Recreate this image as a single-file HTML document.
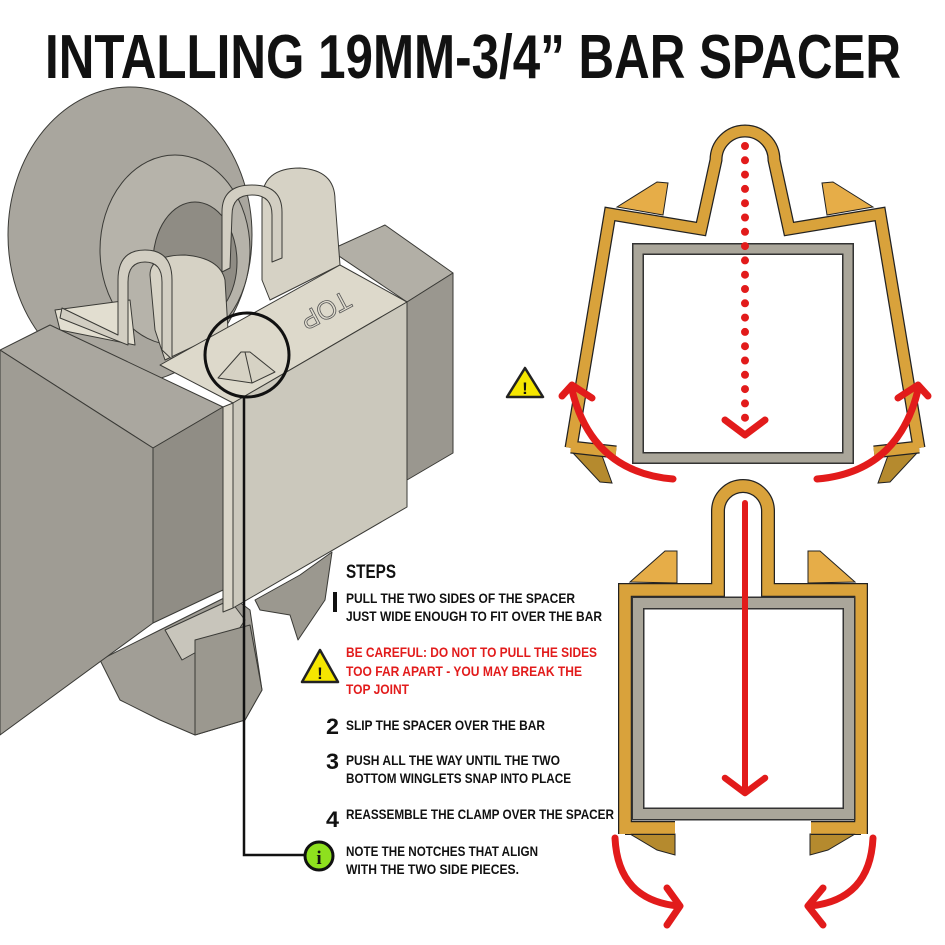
<!DOCTYPE html>
<html><head><meta charset="utf-8"><style>
html,body{margin:0;padding:0;background:#fff;width:945px;height:945px;overflow:hidden}
svg{display:block}
text{font-family:"Liberation Sans",sans-serif;font-weight:bold}
</style></head><body>
<svg width="945" height="945" viewBox="0 0 945 945" xmlns="http://www.w3.org/2000/svg">
<rect width="945" height="945" fill="#fff"/>
<!-- Title -->
<text x="45" y="78" font-size="62" textLength="856" lengthAdjust="spacingAndGlyphs" fill="#111">INTALLING 19MM-3/4” BAR SPACER</text>

<!-- ===== 3D model ===== -->
<g stroke="#3a3a36" stroke-width="1" stroke-linejoin="round">
  <!-- big disk -->
  <ellipse cx="130" cy="235" rx="122" ry="148" fill="#a9a69e"/>
  <ellipse cx="175" cy="250" rx="75" ry="95" fill="#b6b3aa"/>
  <ellipse cx="195" cy="262" rx="42" ry="60" fill="#8f8c84"/>
  <!-- lower disk parts -->
  <path d="M100,660 L160,630 L230,595 L250,610 L262,690 L245,720 L195,735 L160,720 L120,700 Z" fill="#a19e96"/>
  <path d="M165,630 L230,600 L245,620 L232,640 L200,650 L182,660 Z" fill="#c8c5bb"/>
  <path d="M195,640 L250,625 L262,690 L245,720 L195,735 Z" fill="#9b988f"/>
  <path d="M255,600 L300,575 L332,552 L325,600 L298,640 L290,615 L260,610 Z" fill="#9b988f"/>
  <!-- far bar top / end -->
  <path d="M330,250 L385,225 L453,273 L407,302 Z" fill="#b2afa6"/>
  <path d="M407,302 L453,273 L453,453 L407,480 Z" fill="#9a978f"/>
  <!-- back clip blocks -->
  <path d="M262,200 Q262,168 300,168 Q335,170 335,200 L340,265 L270,300 L262,280 Z" fill="#d6d2c5"/>
  <path d="M150,275 Q150,255 185,255 Q220,258 225,280 L228,330 L165,360 L155,330 Z" fill="#d6d2c5"/>
  <!-- clip inner floor -->
  <path d="M55,310 L130,300 L135,345 L60,330 Z" fill="#e2ded0"/>
  <!-- U clips (light strips) -->
  <path d="M60,318 L128,345 L128,282 Q128,262 145,262 Q162,262 162,282 L162,350 L178,365 L233,403 L242,396 L172,358 L172,280 Q172,250 145,250 Q118,250 118,280 L118,335 L62,308 Z" fill="#d2cec2"/>
  <path d="M230,268 L232,215 Q232,195 252,195 Q272,195 272,215 L272,262 L282,258 L282,212 Q282,185 252,185 Q222,185 222,212 L222,272 Z" fill="#d2cec2"/>
  <!-- sleeve top face -->
  <path d="M160,365 L340,265 L407,302 L233,403 Z" fill="#ddd9cb"/>
  <!-- sleeve front face -->
  <path d="M233,403 L407,302 L407,507 L233,608 Z" fill="#cbc8bc"/>
  <!-- spacer strip -->
  <path d="M223,407 L233,403 L233,608 L223,612 Z" fill="#d9d5c8"/>
  <!-- bar -->
  <path d="M0,350 L50,325 L223,407 L153,448 Z" fill="#aaa79f"/>
  <path d="M0,350 L153,448 L153,623 L0,735 Z" fill="#9f9c94"/>
  <path d="M153,448 L223,407 L223,590 L153,623 Z" fill="#908d85"/>
  <!-- pyramid -->
  <path d="M218,378 L241,352 L250,352 L275,372 L252,383 Z" fill="#d6d2c4"/>
  <line x1="245" y1="352" x2="252" y2="383"/>
</g>
<text x="0" y="0" font-size="26" font-weight="normal" fill="#e0dccf" stroke="#555" stroke-width="0.8" transform="translate(345,290) rotate(152)" style="font-weight:normal">TOP</text>
<!-- callout -->
<circle cx="247" cy="355" r="42" fill="none" stroke="#111" stroke-width="3"/>
<polyline points="244,396 244,855 305,855" fill="none" stroke="#111" stroke-width="2.5"/>

<!-- ===== Top-right diagram ===== -->
<g stroke="#222" stroke-width="1">
  <polygon points="617,207 657,182 668,183 663,215" fill="#e6ad48"/>
  <polygon points="873,207 833,182 822,183 827,215" fill="#e6ad48"/>
  <polygon points="573,453 600,450 612,483 600,482" fill="#b58a2e"/>
  <polygon points="917,453 890,450 878,483 890,482" fill="#b58a2e"/>
</g>
<path d="M571,448 L610,214 L701,229 L716,160 A29 29 0 0 1 774,160 L789,229 L880,214 L919,448 M571,447 L616,452 M919,447 L874,452" fill="none" stroke="#222" stroke-width="13" stroke-linejoin="miter"/>
<path d="M571,448 L610,214 L701,229 L716,160 A29 29 0 0 1 774,160 L789,229 L880,214 L919,448 M571,447 L616,452 M919,447 L874,452" fill="none" stroke="#d9a23b" stroke-width="10.5" stroke-linejoin="miter"/>
<rect x="638" y="249" width="210" height="209" fill="none" stroke="#333" stroke-width="12"/>
<rect x="638" y="249" width="210" height="209" fill="none" stroke="#aaa69a" stroke-width="9"/>
<line x1="745" y1="146" x2="745" y2="428" stroke="#e21b1b" stroke-width="8" stroke-linecap="round" stroke-dasharray="0 14.3"/>
<polyline points="725,420 745,435 765,420" fill="none" stroke="#e21b1b" stroke-width="7" stroke-linecap="round" stroke-linejoin="round"/>
<path d="M673,479 Q592,472 572,390" fill="none" stroke="#e21b1b" stroke-width="7" stroke-linecap="round"/>
<polyline points="562,396 572,385 592,398" fill="none" stroke="#e21b1b" stroke-width="7" stroke-linecap="round" stroke-linejoin="round"/>
<path d="M817,479 Q898,472 918,390" fill="none" stroke="#e21b1b" stroke-width="7" stroke-linecap="round"/>
<polyline points="898,398 918,385 928,396" fill="none" stroke="#e21b1b" stroke-width="7" stroke-linecap="round" stroke-linejoin="round"/>
<!-- warning icon top -->
<path d="M525,368 L543,397 L507,397 Z" fill="#f5e600" stroke="#222" stroke-width="2.5" stroke-linejoin="round"/>
<text x="525" y="394" font-size="17" text-anchor="middle" fill="#111">!</text>

<!-- ===== Bottom-right diagram ===== -->
<g stroke="#222" stroke-width="1">
  <polygon points="630,582 665,551 677,551 677,583" fill="#e6ad48"/>
  <polygon points="855,582 820,551 808,551 808,583" fill="#e6ad48"/>
  <polygon points="630,834 675,834 675,855 657,850" fill="#b58a2e"/>
  <polygon points="855,834 810,834 810,855 828,850" fill="#b58a2e"/>
</g>
<path d="M625,834 L625,590 L718,590 L718,511 A25 25 0 0 1 768,511 L768,590 L861,590 L861,834 M625,828 L675,828 M861,828 L811,828" fill="none" stroke="#222" stroke-width="14"/>
<path d="M625,834 L625,590 L718,590 L718,511 A25 25 0 0 1 768,511 L768,590 L861,590 L861,834 M625,828 L675,828 M861,828 L811,828" fill="none" stroke="#d9a23b" stroke-width="11.5"/>
<rect x="638" y="603" width="211" height="211" fill="none" stroke="#333" stroke-width="13"/>
<rect x="638" y="603" width="211" height="211" fill="none" stroke="#aaa69a" stroke-width="10"/>
<line x1="745" y1="503" x2="745" y2="790" stroke="#e21b1b" stroke-width="6" stroke-linecap="round"/>
<polyline points="725,778 745,793 765,778" fill="none" stroke="#e21b1b" stroke-width="6.5" stroke-linecap="round" stroke-linejoin="round"/>
<path d="M615,838 Q618,900 678,906" fill="none" stroke="#e21b1b" stroke-width="7" stroke-linecap="round"/>
<polyline points="667,888 680,906 667,925" fill="none" stroke="#e21b1b" stroke-width="7" stroke-linecap="round" stroke-linejoin="round"/>
<path d="M873,838 Q870,900 810,906" fill="none" stroke="#e21b1b" stroke-width="7" stroke-linecap="round"/>
<polyline points="823,888 808,906 823,925" fill="none" stroke="#e21b1b" stroke-width="7" stroke-linecap="round" stroke-linejoin="round"/>

<!-- ===== Steps ===== -->
<text x="346" y="578" font-size="19" textLength="50" lengthAdjust="spacingAndGlyphs" fill="#111">STEPS</text>
<rect x="333" y="592" width="4" height="20" fill="#111"/>
<g font-size="14" fill="#111">
<text x="346" y="603" textLength="229" lengthAdjust="spacingAndGlyphs">PULL THE TWO SIDES OF THE SPACER</text>
<text x="346" y="621" textLength="256" lengthAdjust="spacingAndGlyphs">JUST WIDE ENOUGH TO FIT OVER THE BAR</text>
<text x="346" y="730" textLength="199" lengthAdjust="spacingAndGlyphs">SLIP THE SPACER OVER THE BAR</text>
<text x="346" y="765" textLength="214" lengthAdjust="spacingAndGlyphs">PUSH ALL THE WAY UNTIL THE TWO</text>
<text x="346" y="783" textLength="225" lengthAdjust="spacingAndGlyphs">BOTTOM WINGLETS SNAP INTO PLACE</text>
<text x="346" y="819" textLength="268" lengthAdjust="spacingAndGlyphs">REASSEMBLE THE CLAMP OVER THE SPACER</text>
<text x="346" y="856" textLength="192" lengthAdjust="spacingAndGlyphs">NOTE THE NOTCHES THAT ALIGN</text>
<text x="346" y="874" textLength="173" lengthAdjust="spacingAndGlyphs">WITH THE TWO SIDE PIECES.</text>
</g>
<g font-size="14" fill="#e21b1b">
<text x="346" y="657" textLength="251" lengthAdjust="spacingAndGlyphs">BE CAREFUL: DO NOT TO PULL THE SIDES</text>
<text x="346" y="676" textLength="236" lengthAdjust="spacingAndGlyphs">TOO FAR APART - YOU MAY BREAK THE</text>
<text x="346" y="694" textLength="63" lengthAdjust="spacingAndGlyphs">TOP JOINT</text>
</g>
<g font-size="22" fill="#111">
<text x="326" y="734" textLength="13" lengthAdjust="spacingAndGlyphs">2</text>
<text x="326" y="769" textLength="13" lengthAdjust="spacingAndGlyphs">3</text>
<text x="326" y="827" textLength="13" lengthAdjust="spacingAndGlyphs">4</text>
</g>
<!-- warning icon steps -->
<path d="M320,650 L338,682 L302,682 Z" fill="#f5e600" stroke="#222" stroke-width="2.5" stroke-linejoin="round"/>
<text x="320" y="679" font-size="17" text-anchor="middle" fill="#111">!</text>
<!-- info icon -->
<circle cx="319" cy="856" r="14" fill="#8ee01e" stroke="#111" stroke-width="3"/>
<text x="319" y="864" font-size="19" text-anchor="middle" fill="#111" style="font-family:'Liberation Serif',serif">i</text>
</svg>
</body></html>
